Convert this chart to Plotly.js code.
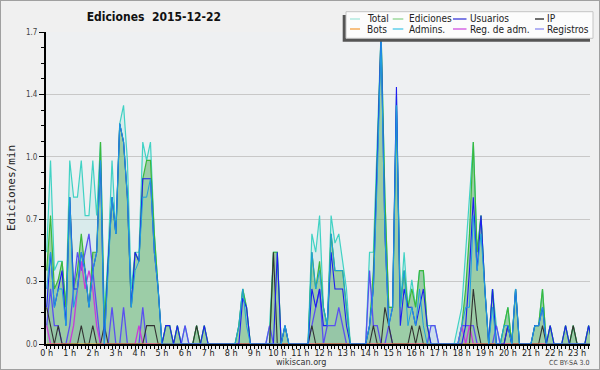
<!DOCTYPE html>
<html><head><meta charset="utf-8">
<script src="https://cdn.plot.ly/plotly-3.0.1.min.js"></script>
<style>
html,body{margin:0;padding:0;background:#f0f0f0;}
#chart{width:598px;height:368px;border:1px solid #a0a0a0;}
</style></head><body><div id="chart"></div>
<script>
// 10-minute bins, 144 per day (values in edits/min)
const hourTicks = [0,1,2,3,4,5,6,7,8,9,10,11,12,13,14,15,16,17,18,19,20,21,22,23];
const hourLabels = ['0 h','1 h','2 h','3 h','4 h','5 h','6 h','7 h','8 h','9 h','10 h','11 h','12 h','13 h','14 h','15 h','16 h','17 h','18 h','19 h','20 h','21 h','22 h','23 h'];
const seriesNames = ['Total','Ediciones','Usuarios','IP','Bots','Admins.','Reg. de adm.','Registros'];

const total = [
0.5,1.0,0.4,0.45,0.45,0.2, 1.0,0.8,0.8,1.0,0.7,0.7, 1.0,0.7,1.1,0.15,0.5,1.0, 0.6,1.2,1.3,1.0,0.3,0.5,
0.5,1.1,1.0,1.1,0.6,0.3, 0,0.1,0.1,0,0.1,0, 0.1,0,0,0.1,0,0.1, 0,0,0,0,0,0,
0,0,0.1,0.3,0.2,0, 0,0,0,0,0.1,0.5, 0.5,0,0.1,0,0,0, 0,0,0,0.6,0.5,0.7,
0.2,0.1,0.7,0.55,0.6,0.45, 0.3,0,0,0,0,0, 0.5,0.5,1.1,1.7,0.8,0.2, 0.2,1.35,0.2,0.5,0.2,0.35,
0.2,0.4,0.4,0.1,0.1,0.1, 0,0,0,0,0,0.1, 0.2,0.5,0.8,1.1,0.5,0.7, 0.3,0,0.3,0.1,0,0.1,
0.2,0,0.3,0,0,0, 0,0.1,0.1,0.3,0,0.1, 0,0,0,0.1,0,0.1, 0,0,0,0.1,0,0
];
const ediciones = [
0.4,0.7,0.3,0.35,0.45,0.2, 0.8,0.3,0.4,0.6,0.4,0.2, 0.5,0.5,1.1,0.1,0.45,0.8, 0.6,1.2,1.1,0.8,0.2,0.5,
0.45,0.9,1.0,1.0,0.6,0.3, 0,0.1,0.1,0,0.1,0, 0,0,0,0.1,0,0.1, 0,0,0,0,0,0,
0,0,0.1,0.3,0.2,0, 0,0,0,0,0,0.5, 0.5,0,0.1,0,0,0, 0,0,0,0.5,0.3,0.45,
0.2,0.1,0.6,0.4,0.4,0.4, 0.2,0,0,0,0,0, 0.1,0.4,1.0,1.7,0.8,0.2, 0.2,1.3,0.2,0.4,0.2,0.3,
0.2,0.4,0.4,0.1,0,0, 0,0,0,0,0,0, 0.1,0.3,0.6,1.1,0.5,0.7, 0.3,0,0.3,0,0,0.1,
0.2,0,0.3,0,0,0, 0,0.1,0.1,0.3,0,0.1, 0,0,0,0.1,0,0.1, 0,0,0,0.1,0,0
];
const usuarios = [
0.2,0.5,0.2,0.3,0.4,0.1, 0.8,0.3,0.3,0.5,0.4,0.2, 0.4,0.5,1.0,0,0.45,0.8, 0.6,1.2,1.1,0.8,0.2,0.5,
0.45,0.9,0.9,0.9,0.5,0.3, 0,0.1,0.1,0,0.1,0, 0,0,0,0,0,0.1, 0,0,0,0,0,0,
0,0,0,0.25,0.2,0, 0,0,0,0,0,0, 0.5,0,0.1,0,0,0, 0,0,0,0.3,0.2,0.3,
0.1,0.1,0.5,0.3,0.3,0.3, 0.1,0,0,0,0,0, 0.1,0.3,1.0,1.7,0.6,0.1, 0.2,1.4,0.1,0.3,0.2,0.2,
0.1,0.2,0.3,0.1,0,0, 0,0,0,0,0,0, 0,0.1,0.4,0.8,0.4,0.7, 0.3,0,0.3,0,0,0,
0.1,0,0.3,0,0,0, 0,0.1,0.1,0.2,0,0.1, 0,0,0,0.1,0,0, 0,0,0,0.1,0,0
];
const ip = [
0.2,0.1,0,0.1,0,0, 0,0,0,0.1,0,0, 0.1,0,0,0.1,0,0, 0,0,0,0,0,0,
0,0,0.1,0.1,0.1,0, 0,0,0,0,0,0, 0,0,0,0.1,0,0, 0,0,0,0,0,0,
0,0,0,0,0,0, 0,0,0,0,0,0.5, 0,0,0,0,0,0, 0,0,0,0.1,0,0,
0,0,0,0,0,0, 0,0,0,0,0,0, 0,0.1,0,0,0.2,0.1, 0,0,0,0,0,0.1,
0,0.1,0,0,0,0, 0,0,0,0,0,0, 0,0,0,0.3,0.1,0, 0,0,0,0,0,0,
0.1,0,0,0,0,0, 0,0,0,0.1,0,0, 0,0,0,0,0,0.1, 0,0,0,0,0,0
];
const bots = [
0,0,0,0,0,0, 0,0,0,0,0,0, 0,0,0,0,0,0, 0,0,0,0,0,0,
0,0,0,0,0,0, 0,0,0,0,0,0, 0,0,0,0,0,0, 0,0,0,0,0,0,
0,0,0,0,0,0, 0,0,0,0,0,0, 0,0,0,0,0,0, 0,0,0,0,0,0,
0,0,0,0,0,0, 0,0,0,0,0,0, 0,0,0,0,0,0, 0,0,0,0,0,0,
0,0,0,0,0,0, 0,0,0,0,0,0, 0,0,0,0,0,0, 0,0,0,0,0,0,
0,0,0,0,0,0, 0,0,0,0,0,0, 0,0,0,0,0,0, 0,0,0,0,0,0
];
const admins = [
0.3,0.5,0.2,0.3,0.3,0.1, 0.8,0.2,0.3,0.5,0.4,0.2, 0.4,0.5,1.0,0,0.4,0.8, 0.6,1.2,1.1,0.8,0.2,0.4,
0.45,0.8,0.8,0.9,0.5,0.3, 0,0,0,0,0,0, 0,0,0,0,0,0, 0,0,0,0,0,0,
0,0,0.1,0.3,0.1,0, 0,0,0,0,0,0, 0,0,0.1,0,0,0, 0,0,0,0.5,0.3,0.4,
0.2,0.1,0.6,0.4,0.4,0.4, 0.2,0,0,0,0,0, 0.1,0.3,0.9,1.65,0.6,0.1, 0.2,1.3,0.2,0.4,0.1,0.2,
0.1,0.3,0.1,0,0,0, 0,0,0,0,0,0, 0.1,0.2,0.2,0.7,0.4,0.6, 0.3,0,0.2,0,0,0.1,
0.1,0,0.3,0,0,0, 0,0.1,0.1,0.2,0,0, 0,0,0,0,0,0, 0,0,0,0,0,0
];
const regAdm = [
0.1,0,0,0,0,0, 0,0.1,0.3,0.45,0.3,0.4, 0.3,0.1,0,0,0,0, 0,0,0,0,0,0,
0.1,0,0,0,0,0, 0,0,0,0,0,0, 0,0,0,0,0,0, 0,0,0,0,0,0,
0,0,0,0,0,0, 0,0,0,0,0,0, 0,0,0,0,0,0, 0,0,0,0,0,0,
0,0,0,0,0,0, 0,0,0,0,0,0, 0,0,0,0,0,0, 0,0,0,0,0,0,
0,0,0,0,0,0, 0,0,0,0,0,0, 0.1,0,0.1,0,0,0, 0,0,0,0,0,0,
0,0,0,0,0,0, 0,0,0,0,0,0, 0,0,0,0,0,0, 0,0,0,0,0,0
];
const registros = [
0.1,0.3,0.1,0.1,0,0, 0.1,0.3,0.5,0.4,0.5,0.6, 0.4,0.2,0,0,0,0.2, 0,0,0.2,0,0,0,
0,0.2,0,0,0,0, 0,0,0,0,0,0, 0.1,0,0,0,0,0, 0,0,0,0,0,0,
0,0,0,0,0,0, 0,0,0,0,0.1,0, 0,0,0,0,0,0, 0,0,0,0.1,0.2,0.3,
0,0.1,0.1,0.1,0.2,0.1, 0,0,0,0,0,0, 0.4,0.1,0.1,0,0,0.1, 0,0,0,0,0,0,
0,0,0,0,0.1,0.1, 0,0,0,0,0,0, 0.1,0.1,0.1,0.1,0,0, 0,0,0,0.1,0,0,
0,0,0,0,0,0, 0,0,0,0,0,0, 0,0,0,0,0,0, 0,0,0,0,0,0
];

// time axis in hours (bin starts)
const hours = total.map((_, i) => i / 6);

const lineColors = ['#40d2c4','#3cb83c','#1e1ef0','#333333','#f59a30','#1e9fe0','#c83cd8','#5a50f0'];
const legendColors = ['#a6e6dc','#8fd48f','#3a3ad8','#222222','#f5a040','#48c8e8','#d050e0','#8a8af0'];
const seriesData = [total, ediciones, usuarios, ip, bots, admins, regAdm, registros];

const traces = [];
// fills first
traces.push({x: hours, y: total, type:'scatter', mode:'none', fill:'tozeroy', fillcolor:'rgba(64,208,200,0.12)', hoverinfo:'skip', showlegend:false});
traces.push({x: hours, y: registros, type:'scatter', mode:'none', fill:'tozeroy', fillcolor:'rgba(110,110,240,0.10)', hoverinfo:'skip', showlegend:false});
traces.push({x: hours, y: ediciones, type:'scatter', mode:'none', fill:'tozeroy', fillcolor:'rgba(85,170,85,0.46)', hoverinfo:'skip', showlegend:false});
// lines, drawing order
const order = [0, 1, 7, 6, 3, 4, 2, 5];
const widths = [1.2, 1.2, 1.1, 1.1, 1.1, 1, 1.3, 1.3];
order.forEach(k => {
  traces.push({x: hours, y: seriesData[k], name: seriesNames[k], type:'scatter', mode:'lines',
    line:{color: lineColors[k], width: widths[k]}, showlegend:false});
});

const W = 598, H = 368, L = 45, R = 9, T = 31, B = 25;
const PW = W - L - R, PH = H - T - B;
function px(xPage){ return (xPage - 1 - L) / PW; }
function py(yPage){ return (H - B - (yPage - 1)) / PH; }

const shapes = [
  {type:'rect', xref:'paper', yref:'paper', x0:px(342.7), x1:px(590), y0:py(41.7), y1:py(15), fillcolor:'#555555', line:{width:0}, layer:'above'},
  {type:'rect', xref:'paper', yref:'paper', x0:px(346), x1:px(593), y0:py(38.3), y1:py(11.7), fillcolor:'#fcfcfc', line:{color:'#c4c4c4', width:1}, layer:'above'}
];
const colSym = [[350,360],[392.7,403.3],[453,466.5],[535,544]];
const colText = [364.5, 406.5, 467.5, 545];
const rowY = [19, 29];
const annotations = [];
seriesNames.forEach((nm, k) => {
  const c = k % 4, r = Math.floor(k / 4);
  shapes.push({type:'line', xref:'paper', yref:'paper', x0:px(colSym[c][0]), x1:px(colSym[c][1]), y0:py(rowY[r]), y1:py(rowY[r]), line:{color:legendColors[k], width:1.3}, layer:'above'});
  annotations.push({xref:'paper', yref:'paper', x:px(colText[c]), y:py(rowY[r]), xanchor:'left', yanchor:'middle', showarrow:false, text:nm, font:{family:'DejaVu Sans Condensed, DejaVu Sans', size:10, color:'#222'}});
});
annotations.push({xref:'paper', yref:'paper', x:px(300.5), y:py(362), xanchor:'center', yanchor:'middle', showarrow:false, text:'wikiscan.org', font:{family:'DejaVu Sans Condensed, DejaVu Sans', size:9, color:'#333'}});
annotations.push({xref:'paper', yref:'paper', x:px(591), y:py(363), xanchor:'right', yanchor:'middle', showarrow:false, text:'CC BY-SA 3.0', font:{family:'DejaVu Sans Condensed, DejaVu Sans', size:7, color:'#444'}});

const layout = {
  width: W, height: H,
  margin: {l:L, r:R, t:T, b:B, pad:0},
  paper_bgcolor:'#f0f0f0', plot_bgcolor:'#eef0f2',
  showlegend:false,
  title:{text:'<b>Ediciones\u00a0 2015-12-22</b>', font:{family:'DejaVu Sans Condensed, DejaVu Sans', size:12, color:'#111'},
         x:152.8/W, xref:'container', xanchor:'center', y:1-15.5/H, yref:'container', yanchor:'middle'},
  xaxis:{range:[-0.03, 23.56], tickmode:'array', tickvals:hourTicks, ticktext:hourLabels, tickangle:0,
         ticks:'outside', ticklen:3, tickcolor:'#000', tickwidth:1, ticklabelstandoff:-4,
         showline:true, linecolor:'#000', linewidth:2, showgrid:false, zeroline:false,
         tickfont:{family:'DejaVu Sans Condensed, DejaVu Sans', size:9, color:'#222'},
         minor:{tickmode:'linear', tick0:0, dtick:1/6, ticks:'outside', ticklen:3, tickcolor:'#000', tickwidth:1, showgrid:false}},
  yaxis:{range:[0,1.7], tickmode:'array', tickvals:[0,0.34,0.68,1.02,1.36,1.7], ticktext:['0.0','0.3','0.7','1.0','1.4','1.7'],
         ticks:'outside', ticklen:5, tickcolor:'#000', tickwidth:1,
         showline:true, linecolor:'#000', linewidth:2, showgrid:true, gridcolor:'#c8c8c8', gridwidth:1, zeroline:false,
         tickfont:{family:'DejaVu Sans Condensed, DejaVu Sans', size:8, color:'#444'},
         minor:{tickmode:'linear', tick0:0, dtick:0.085, ticks:'outside', ticklen:3, tickcolor:'#000', tickwidth:1, showgrid:false},
         title:{text:'Ediciones/min', font:{family:'DejaVu Sans Mono', size:11, color:'#222'}, standoff:8}},
  shapes: shapes,
  annotations: annotations
};

Plotly.newPlot('chart', traces, layout, {staticPlot:true, displayModeBar:false});
</script>
</body></html>
